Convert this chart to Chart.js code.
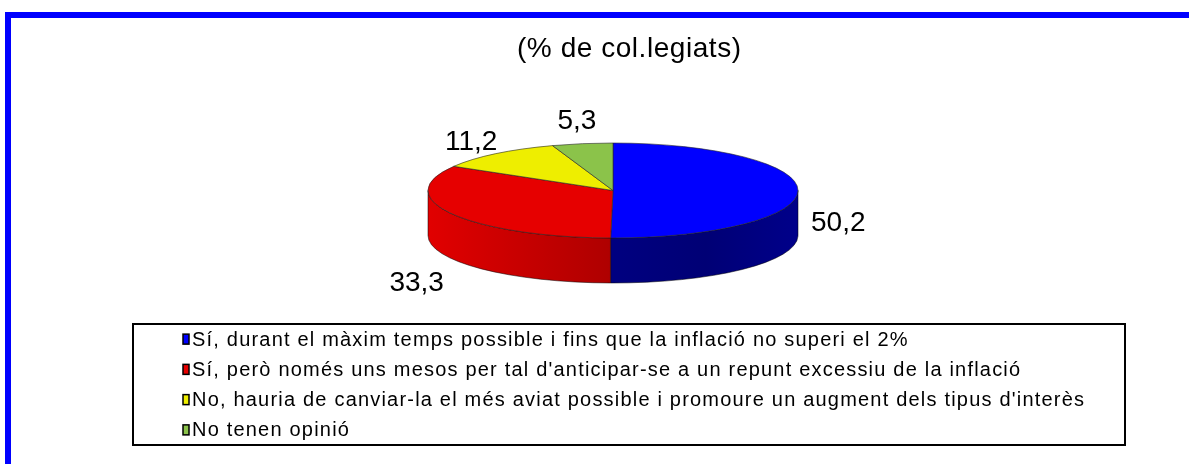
<!DOCTYPE html>
<html>
<head>
<meta charset="utf-8">
<script src="https://cdn.jsdelivr.net/npm/chart.js@4.4.1/dist/chart.umd.min.js"></script>
<style>
  html, body { margin: 0; padding: 0; background: #ffffff; }
  #wrap { position: relative; width: 1189px; height: 464px; overflow: hidden; }
</style>
</head>
<body>
<div id="wrap"><canvas id="c" width="1189" height="464"></canvas></div>
<script>
const titleText = "(% de col.legiats)";
const categories = [
  "Sí, durant el màxim temps possible i fins que la inflació no superi el 2%",
  "Sí, però només uns mesos per tal d'anticipar-se a un repunt excessiu de la inflació",
  "No, hauria de canviar-la el més aviat possible i promoure un augment dels tipus d'interès",
  "No tenen opinió"
];
const values = [50.2, 33.3, 11.2, 5.3];
const sliceColors = ["#0000ff", "#e60000", "#eeee00", "#8bc34a"];

const FONT = '"Liberation Sans", Arial, Helvetica, sans-serif';
const DEPTH = 45;

function fmt(v) { return v.toFixed(1).replace('.', ','); }

function shade(hex, f) {
  const n = parseInt(hex.slice(1), 16);
  const r = Math.round(((n >> 16) & 255) * f);
  const g = Math.round(((n >> 8) & 255) * f);
  const b = Math.round((n & 255) * f);
  return 'rgb(' + r + ',' + g + ',' + b + ')';
}

function fitSpacing(ctx, text, target) {
  ctx.letterSpacing = '0px';
  const w = ctx.measureText(text).width;
  return (target - w) / Math.max(1, text.length - 1);
}

const framePlugin = {
  id: 'frame',
  beforeDraw(chart) {
    const ctx = chart.ctx;
    ctx.save();
    ctx.fillStyle = '#ffffff';
    ctx.fillRect(0, 0, chart.width, chart.height);
    ctx.fillStyle = '#0000ff';
    ctx.fillRect(5, 12, chart.width - 5, 6);
    ctx.fillRect(5, 12, 6, chart.height - 12);
    // title
    ctx.fillStyle = '#000000';
    ctx.font = '28px ' + FONT;
    ctx.textAlign = 'center';
    ctx.textBaseline = 'middle';
    const ls = fitSpacing(ctx, titleText, 224);
    ctx.letterSpacing = ls + 'px';
    ctx.fillText(titleText, 629 + ls / 2, 49);
    ctx.letterSpacing = '0px';
    ctx.restore();
  }
};

const pie3dPlugin = {
  id: 'pie3d',
  beforeDatasetsDraw(chart) {
    const ctx = chart.ctx, ca = chart.chartArea;
    const meta = chart.getDatasetMeta(0);
    const cx = (ca.left + ca.right) / 2;
    const rx = (ca.right - ca.left) / 2;
    const ry = (ca.bottom - ca.top - DEPTH) / 2;
    const cy = ca.top + ry;
    ctx.save();
    // side walls
    meta.data.forEach((arc) => {
      const p = arc.getProps(['startAngle', 'endAngle'], true);
      const lo = Math.max(p.startAngle, 0), hi = Math.min(p.endAngle, Math.PI);
      if (hi <= lo) return;
      const base = arc.options.backgroundColor;
      const g = ctx.createLinearGradient(ca.left, 0, ca.right, 0);
      g.addColorStop(0, shade(base, 0.98));
      g.addColorStop(0.49, shade(base, 0.76));
      g.addColorStop(0.497, shade(base, 0.5));
      g.addColorStop(0.75, shade(base, 0.46));
      g.addColorStop(1, shade(base, 0.54));
      ctx.beginPath();
      ctx.ellipse(cx, cy, rx, ry, 0, lo, hi, false);
      ctx.lineTo(cx + rx * Math.cos(hi), cy + ry * Math.sin(hi) + DEPTH);
      ctx.ellipse(cx, cy + DEPTH, rx, ry, 0, hi, lo, true);
      ctx.closePath();
      ctx.fillStyle = g;
      ctx.fill();
      ctx.strokeStyle = 'rgba(0,0,0,0.5)';
      ctx.lineWidth = 1;
      ctx.stroke();
    });
    // top faces
    meta.data.forEach((arc) => {
      const p = arc.getProps(['startAngle', 'endAngle'], true);
      ctx.beginPath();
      ctx.moveTo(cx, cy);
      ctx.ellipse(cx, cy, rx, ry, 0, p.startAngle, p.endAngle, false);
      ctx.closePath();
      ctx.fillStyle = arc.options.backgroundColor;
      ctx.fill();
      ctx.strokeStyle = 'rgba(40,40,40,0.6)';
      ctx.lineWidth = 1;
      ctx.stroke();
    });
    // value labels
    ctx.font = '28px ' + FONT;
    ctx.fillStyle = '#000000';
    ctx.textAlign = 'center';
    ctx.textBaseline = 'middle';
    meta.data.forEach((arc, i) => {
      const p = arc.getProps(['startAngle', 'endAngle'], true);
      const th = (p.startAngle + p.endAngle) / 2;
      const c = Math.cos(th), s = Math.sin(th);
      const txt = fmt(chart.data.datasets[0].data[i]);
      const w = ctx.measureText(txt).width, h = 22;
      const Rx = rx + 13;
      const Ry = ry + 44 + (s > 0 ? DEPTH / 2 : 0);
      const lx = cx + (Rx + w / 2) * c;
      const ly = cy + DEPTH * 0.7 + (Ry + h / 2) * s;
      ctx.fillText(txt, lx, ly);
    });
    ctx.restore();
    return false;
  }
};

const legendPlugin = {
  id: 'boxLegend',
  afterDraw(chart) {
    const ctx = chart.ctx;
    const labels = chart.data.labels;
    const cols = chart.data.datasets[0].backgroundColor;
    const L = 133, T = 324, R = 1125, B = 445;
    ctx.save();
    ctx.strokeStyle = '#000000';
    ctx.lineWidth = 2;
    ctx.strokeRect(L, T, R - L, B - T);
    ctx.font = '20px ' + FONT;
    ctx.textAlign = 'left';
    ctx.textBaseline = 'middle';
    const ls = fitSpacing(ctx, labels[2], 892);
    const pitch = (B - T) / labels.length;
    labels.forEach((lab, i) => {
      const y = T + pitch * (i + 0.5);
      ctx.fillStyle = cols[i];
      ctx.fillRect(183, y - 5, 6, 10);
      ctx.strokeStyle = '#000000';
      ctx.lineWidth = 1.5;
      ctx.strokeRect(183, y - 5, 6, 10);
      ctx.fillStyle = '#000000';
      ctx.letterSpacing = ls + 'px';
      ctx.fillText(lab, 192, y + 1);
    });
    ctx.letterSpacing = '0px';
    ctx.restore();
  }
};

new Chart(document.getElementById('c'), {
  type: 'pie',
  data: {
    labels: categories,
    datasets: [{
      data: values,
      backgroundColor: sliceColors,
      borderWidth: 0
    }]
  },
  options: {
    responsive: false,
    animation: false,
    layout: { padding: { left: 428, right: 391, top: 143, bottom: 181 } },
    plugins: {
      legend: { display: false },
      title: { display: false },
      tooltip: { enabled: false }
    }
  },
  plugins: [framePlugin, pie3dPlugin, legendPlugin]
});
</script>
</body>
</html>
